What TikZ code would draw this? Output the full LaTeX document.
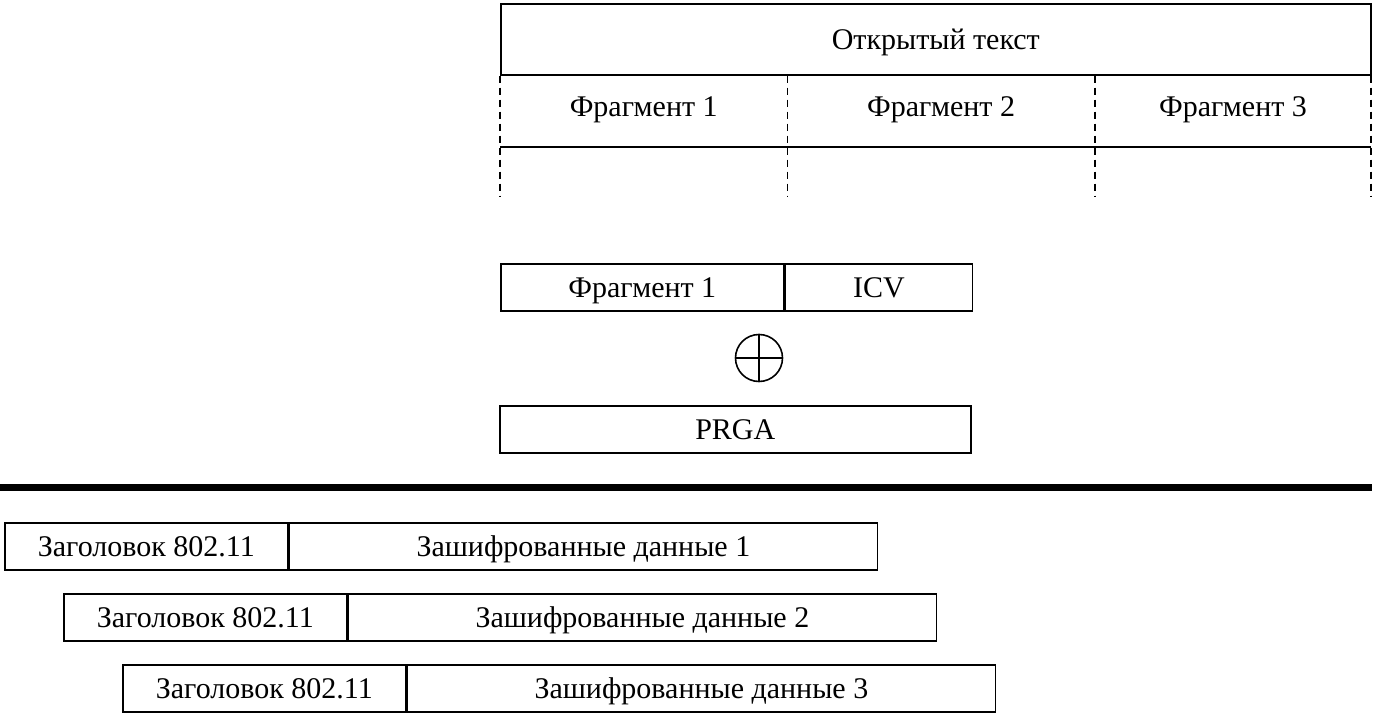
\documentclass[tikz,border=0pt]{standalone}
\usepackage{fontspec}
\setmainfont{Liberation Serif}
\usetikzlibrary{positioning}

\tikzset{
	cell/.style={draw, line width=1.6pt, inner sep=0pt, minimum height=47,
		font=\fontsize{30}{34}\selectfont, text height=20pt, text depth=0pt},
	slot/.style={inner sep=0pt, minimum height=71, font=\fontsize{30}{34}\selectfont,
		text height=20pt, text depth=10pt},
	cut/.style={line width=1.6pt, dash pattern=on 7pt off 5pt},
}

\newcommand{\packet}[3] % left x, top y, number
{
	% header
	\node[cell, anchor=north west, minimum width=283] (hdr#3) at (#1,#2) {Заголовок 802.11};
	% encrypted payload
	\node[cell, anchor=west, minimum width=588] (enc#3) at (hdr#3.east) {Зашифрованные данные #3};
}

\begin{document}
\begin{tikzpicture}[x=1pt, y=-1pt, node distance=0pt]
	\useasboundingbox (0,0) rectangle (1376,714);

	% plaintext split into fragments
	\node[cell, anchor=north west, minimum width=870, minimum height=71] (plain) at (500,3) {Открытый текст};
	\node[slot, anchor=north west, minimum width=287] (frag1) at (plain.south west) {Фрагмент 1};
	\node[slot, right=of frag1, minimum width=307] (frag2) {Фрагмент 2};
	\node[slot, right=of frag2, minimum width=276] (frag3) {Фрагмент 3};
	\draw[line width=1.6pt] (frag1.south west) -- (frag3.south east);
	\draw[cut] (frag1.north west) -- ++(0,121);
	\draw[cut] (frag1.north east) -- ++(0,121);
	\draw[cut] (frag2.north east) -- ++(0,121);
	\draw[cut] (frag3.north east) -- ++(0,121);

	% fragment + ICV, xor with keystream
	\node[cell, anchor=north west, minimum width=283] (frag) at (500,263) {Фрагмент 1};
	\node[cell, right=of frag, minimum width=187] (icv) {ICV};
	\node[draw, circle, line width=1.6pt, minimum size=47, inner sep=0pt] (xor) at (759,358) {};
	\draw[line width=1.6pt] (xor.north) -- (xor.south);
	\draw[line width=1.6pt] (xor.west) -- (xor.east);
	\node[cell, anchor=north west, minimum width=471] (prga) at (499,405) {PRGA};

	% separator
	\draw[line width=7pt] (0,487) -- (1372,487);

	% encrypted frames
	\packet{4}{522}{1}
	\packet{63}{593}{2}
	\packet{122}{664}{3}
\end{tikzpicture}
\end{document}
